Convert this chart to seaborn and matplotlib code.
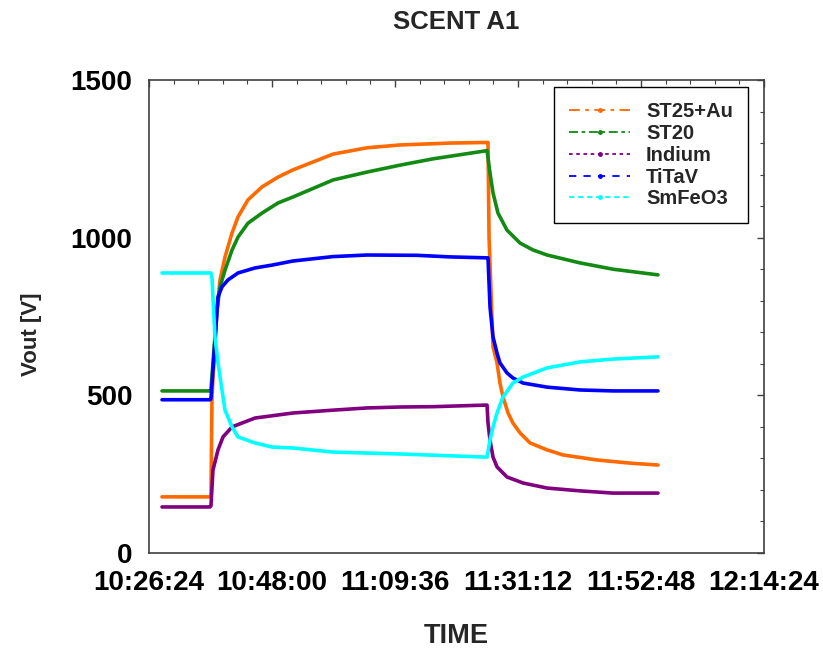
import matplotlib
matplotlib.use("Agg")
import matplotlib.pyplot as plt
from matplotlib.lines import Line2D
from matplotlib.ticker import FixedLocator, MultipleLocator, FuncFormatter
import seaborn as sns
import pandas as pd

# ---------------- data ----------------
series_names = ["ST25+Au", "ST20", "Indium", "TiTaV", "SmFeO3"]
series_colors = ["#FF6A00", "#138A13", "#800080", "#0000FF", "#00FFFF"]

st25_time = ["10:28:41", "10:37:07", "10:37:17", "10:37:28", "10:38:21", "10:38:52",
             "10:39:45", "10:40:59", "10:42:02", "10:43:47", "10:46:15", "10:49:03",
             "10:51:41", "10:58:43", "11:04:41", "11:10:29", "11:19:16", "11:25:46",
             "11:25:56", "11:26:07", "11:26:49", "11:27:31", "11:28:02", "11:28:34",
             "11:29:27", "11:30:19", "11:31:33", "11:33:19", "11:36:18", "11:39:06",
             "11:45:05", "11:50:52", "11:55:47"]
st25_vals = [178, 178, 178, 500, 771, 866,
             939, 1015, 1066, 1120, 1161, 1192,
             1215, 1265, 1285, 1294, 1300, 1302,
             1302, 1000, 653, 603, 539, 495,
             444, 412, 381, 349, 327, 311,
             295, 285, 279]

st20_time = ["10:28:41", "10:37:07", "10:37:17", "10:38:21", "10:38:52", "10:39:45",
             "10:40:59", "10:42:02", "10:43:47", "10:46:15", "10:49:03", "10:51:41",
             "10:58:43", "11:04:41", "11:10:29", "11:16:17", "11:25:46", "11:26:17",
             "11:26:49", "11:27:41", "11:29:16", "11:31:33", "11:33:50", "11:36:18",
             "11:42:05", "11:47:53", "11:55:47"]
st20_vals = [514, 514, 520, 771, 844, 897,
             961, 1002, 1046, 1078, 1110, 1129,
             1183, 1208, 1230, 1250, 1276, 1205,
             1142, 1078, 1024, 983, 961, 945,
             920, 900, 882]

indium_time = ["10:28:41", "10:37:07", "10:37:17", "10:37:38", "10:38:31", "10:39:24",
               "10:40:59", "10:45:01", "10:51:41", "10:58:43", "11:04:41", "11:10:29",
               "11:16:17", "11:25:24", "11:25:46", "11:25:56", "11:26:17", "11:26:49",
               "11:27:31", "11:29:16", "11:32:05", "11:36:18", "11:42:05", "11:47:53",
               "11:55:47"]
indium_vals = [146, 146, 150, 263, 327, 368,
               400, 428, 444, 453, 460, 463,
               464, 469, 469, 412, 358, 304,
               273, 241, 222, 206, 197, 190,
               190]

titav_time = ["10:28:41", "10:37:07", "10:37:17", "10:38:21", "10:38:31", "10:39:13",
              "10:40:16", "10:42:02", "10:45:01", "10:48:00", "10:51:41", "10:58:43",
              "11:04:41", "11:13:28", "11:19:16", "11:25:46", "11:25:56", "11:26:17",
              "11:26:49", "11:27:31", "11:28:02", "11:29:16", "11:30:19", "11:32:05",
              "11:36:18", "11:42:05", "11:47:53", "11:55:47"]
titav_vals = [486, 486, 490, 771, 812, 844,
              866, 888, 904, 913, 926, 940,
              945, 944, 939, 936, 936, 780,
              685, 634, 603, 571, 555, 539,
              526, 517, 514, 514]

smfeo3_time = ["10:28:41", "10:37:17", "10:37:28", "10:37:59", "10:38:31", "10:39:13",
               "10:39:45", "10:40:59", "10:42:02", "10:45:01", "10:48:00", "10:51:41",
               "10:58:43", "11:10:29", "11:25:46", "11:26:17", "11:26:49", "11:27:31",
               "11:28:34", "11:30:19", "11:32:05", "11:36:18", "11:42:05", "11:47:53",
               "11:55:47"]
smfeo3_vals = [888, 888, 870, 685, 603, 517,
               453, 400, 368, 349, 336, 333,
               320, 314, 304, 358, 400, 444,
               495, 539, 558, 587, 606, 615,
               622]

x_tick_labels = ["10:26:24", "10:48:00", "11:09:36", "11:31:12", "11:52:48", "12:14:24"]
y_ticks = [0, 500, 1000, 1500]


def to_sec(s):
    h, m, sec = (int(p) for p in s.split(":"))
    return h * 3600 + m * 60 + sec


def fmt_time(v, pos=None):
    v = int(round(v))
    return f"{v // 3600:02d}:{(v % 3600) // 60:02d}:{v % 60:02d}"


all_times = [st25_time, st20_time, indium_time, titav_time, smfeo3_time]
all_vals = [st25_vals, st20_vals, indium_vals, titav_vals, smfeo3_vals]
rows = []
for name, ts, vs in zip(series_names, all_times, all_vals):
    for t, v in zip(ts, vs):
        rows.append({"t": to_sec(t), "v": v, "series": name})
df = pd.DataFrame(rows)

# ---------------- plot ----------------
sns.set_style("white")
plt.rcParams["font.family"] = ["Liberation Sans", "DejaVu Sans"]
plt.rcParams["font.weight"] = "bold"

fig = plt.figure(figsize=(8.23, 6.55), dpi=100)
ax = fig.add_axes([149 / 823, 1 - 553 / 655, (764 - 149) / 823, (553 - 80) / 655])

sns.lineplot(data=df, x="t", y="v", hue="series", hue_order=series_names,
             palette=dict(zip(series_names, series_colors)), estimator=None,
             sort=False, units="series", linewidth=2.6, legend=False, ax=ax)

xticks = [to_sec(s) for s in x_tick_labels]
ax.set_xlim(xticks[0], xticks[-1])
ax.set_ylim(0, 1500)
ax.xaxis.set_major_locator(FixedLocator(xticks))
ax.xaxis.set_major_formatter(FuncFormatter(fmt_time))
step = (xticks[1] - xticks[0]) / 5
ax.xaxis.set_minor_locator(FixedLocator([xticks[0] + step * k for k in range(26)]))
ax.yaxis.set_major_locator(FixedLocator(y_ticks))
ax.yaxis.set_minor_locator(MultipleLocator(100))

ax.tick_params(which="both", direction="in", top=True, right=True,
               colors="#404040", labelcolor="black")
ax.tick_params(which="major", length=5, width=1)
ax.tick_params(which="minor", length=3, width=0.8)
ax.tick_params(axis="x", which="major", labelsize=20, pad=12)
ax.tick_params(axis="y", which="major", labelsize=20, pad=12)
for lab in ax.get_xticklabels() + ax.get_yticklabels():
    lab.set_fontweight("bold")
for sp in ax.spines.values():
    sp.set_color("#404040")
    sp.set_linewidth(1.2)

ax.set_xlabel("")
ax.set_ylabel("")
fig.text(456 / 823, 1 - 22 / 655, "SCENT A1", ha="center", va="center",
         fontsize=18.5, fontweight="bold")
fig.text(456 / 823, 1 - 636 / 655, "TIME", ha="center", va="center",
         fontsize=19.5, fontweight="bold")
fig.text(32 / 823, 1 - 334 / 655, "Vout [V]", ha="center", va="center",
         rotation=90, fontsize=16, fontweight="bold")

dash_styles = [(0, (6, 3, 2, 3)), (0, (5, 2, 2, 2)), (0, (2, 2)), (0, (4, 4)), (0, (3, 2))]
handles = [Line2D([0], [0], color=c, lw=1.3, ls=d, marker="o",
                  markersize=2.5, markevery=[0, 1])
           for c, d in zip(series_colors, dash_styles)]
leg = ax.legend(handles, series_names, loc="upper right",
                bbox_to_anchor=((748 - 149) / 615, (553 - 87) / 473),
                borderaxespad=0,
                frameon=True, fancybox=False, edgecolor="black", framealpha=1,
                prop={"weight": "bold", "size": 14.5}, handlelength=3.0,
                borderpad=0.75, labelspacing=0.14, handletextpad=0.8)
leg.get_frame().set_linewidth(1.0)

fig.savefig("out.png", dpi=100)
